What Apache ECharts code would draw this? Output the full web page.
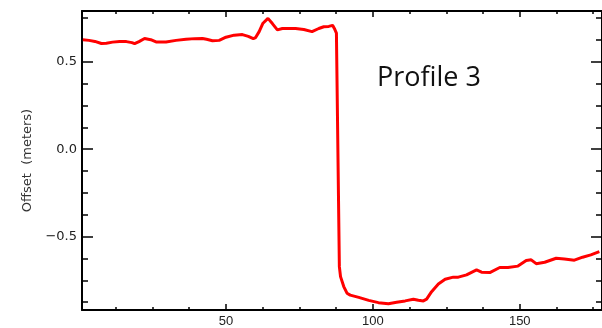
<!DOCTYPE html>
<html>
<head>
<meta charset="utf-8">
<script src="https://cdn.jsdelivr.net/npm/echarts@6/dist/echarts.min.js"></script>
<style>
html,body{margin:0;padding:0;background:#fff;}
#c{width:602px;height:328px;}
</style>
</head>
<body>
<div id="c"></div>
<script>
// Profile x positions and offsets (meters)
const profileX = [1.3,3.4,5.4,7.6,9.3,11.4,13.8,16.1,18,18.9,20.4,22.3,24.4,26.2,29.6,33,36.4,39.4,42,43.4,45.4,47.7,50,52.8,55.6,57.6,59.3,60.1,61.3,62.6,64.3,65.8,67.5,69.2,73.7,76.5,79.3,81.6,83.3,85,86.3,86.9,87.6,
  88.6,89,90.1,91.2,92.3,95.2,98.6,101.9,105.3,108.1,111,113.8,115.5,117.2,118.3,120,122.3,124.6,127.4,129.1,131.9,135.3,137,139.8,143.2,146,149.4,152.2,153.9,155.6,158.5,162.4,165.2,168.6,171.4,174.2,177.1];
const profileY = [0.626,0.622,0.616,0.604,0.606,0.612,0.616,0.615,0.609,0.603,0.615,0.633,0.626,0.613,0.613,0.622,0.628,0.632,0.633,0.628,0.620,0.622,0.640,0.652,0.655,0.645,0.632,0.638,0.672,0.720,0.748,0.718,0.682,0.690,0.690,0.684,0.672,0.690,0.700,0.702,0.708,0.690,0.664,
  -0.672,-0.729,-0.786,-0.824,-0.835,-0.848,-0.865,-0.878,-0.884,-0.876,-0.868,-0.858,-0.864,-0.868,-0.858,-0.815,-0.771,-0.744,-0.732,-0.732,-0.719,-0.691,-0.704,-0.706,-0.677,-0.677,-0.669,-0.637,-0.633,-0.655,-0.647,-0.624,-0.628,-0.635,-0.618,-0.605,-0.586];
const xMajorTicks = [50,100,150];
const xMinorTicks = [12.5,25,37.5,62.5,75,87.5,112.5,125,137.5,162.5,175];
const yMajorTicks = [-0.5,0.0,0.5];
const yMinorTicks = [-0.875,-0.75,-0.625,-0.375,-0.25,-0.125,0.125,0.25,0.375,0.625,0.75];
const xRange = [1,178];
const yRange = [-0.92,0.79];
const yTitle = 'Offset  (meters)';
const annotation = 'Profile 3';

const data = profileX.map((x,i)=>[x,profileY[i]]);

function xAx(pos, ticks, len, labels, show){
  return {
    type:'value', position:pos, min:xRange[0], max:xRange[1],
    axisLine:{show:show, onZero:false, lineStyle:{color:'#000',width:2}},
    splitLine:{show:false},
    axisTick:{show:true, inside:true, length:len, customValues:ticks, lineStyle:{color:'#000',width:1.5}},
    axisLabel:{show:!!labels, customValues:labels||[], margin:5, color:'#222', fontFamily:'Liberation Sans', fontSize:13,
      formatter:v=>String(v)}
  };
}
function yAx(pos, ticks, len, labels, show, name){
  return {
    type:'value', position:pos, min:yRange[0], max:yRange[1],
    name:name||'', nameLocation:'middle', nameGap:48,
    nameTextStyle:{fontFamily:'DejaVu Sans', fontSize:13, color:'#333'},
    axisLine:{show:show, onZero:false, lineStyle:{color:'#000',width:2}},
    splitLine:{show:false},
    axisTick:{show:true, inside:true, length:len, customValues:ticks, lineStyle:{color:'#000',width:1.5}},
    axisLabel:{show:!!labels, customValues:labels||[], margin:5, color:'#222', fontFamily:'DejaVu Sans', fontSize:13,
      formatter:v=>{ const s=v.toFixed(1); return s.replace('-','\u2212'); }}
  };
}

const chart = echarts.init(document.getElementById('c'), null, {renderer:'canvas'});
chart.setOption({
  animation:false,
  backgroundColor:'#fff',
  grid:{left:82, top:11, width:522, height:299, containLabel:false},
  xAxis:[
    xAx('bottom', xMajorTicks, 6, xMajorTicks, true),
    xAx('bottom', xMinorTicks, 3, null, false),
    xAx('top', xMajorTicks, 6, null, true),
    xAx('top', xMinorTicks, 3, null, false)
  ],
  yAxis:[
    yAx('left', yMajorTicks, 11, yMajorTicks, true, yTitle),
    yAx('left', yMinorTicks, 6, null, false),
    yAx('right', yMajorTicks, 11, null, true),
    yAx('right', yMinorTicks, 6, null, false)
  ],
  graphic:[{
    type:'text', left:377, top:65,
    style:{text:annotation, font:'27px "Open Sans"', fill:'#111'}
  }],
  series:[{
    type:'line', data:data, xAxisIndex:0, yAxisIndex:0,
    showSymbol:false, smooth:false,
    lineStyle:{color:'#ff0000', width:3},
    clip:true
  }]
});
</script>
</body>
</html>
